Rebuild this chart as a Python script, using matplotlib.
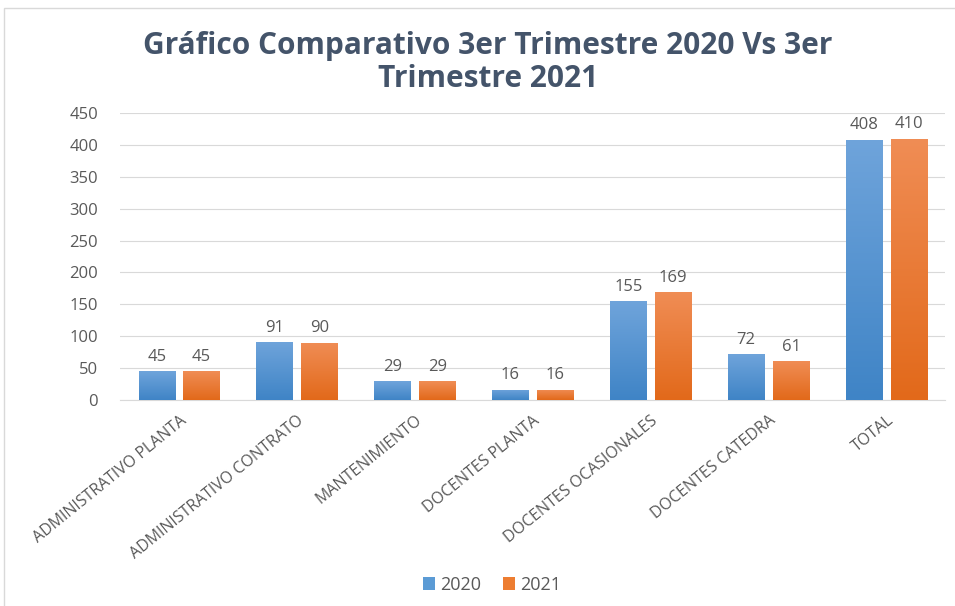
import matplotlib.pyplot as plt
import numpy as np
from matplotlib.patches import Rectangle
from matplotlib.colors import LinearSegmentedColormap

categorias = ["ADMINISTRATIVO PLANTA", "ADMINISTRATIVO CONTRATO", "MANTENIMIENTO",
              "DOCENTES PLANTA", "DOCENTES OCASIONALES", "DOCENTES CATEDRA", "TOTAL"]
v2020 = [45, 91, 29, 16, 155, 72, 408]
v2021 = [45, 90, 29, 16, 169, 61, 410]
series = ["2020", "2021"]

plt.rcParams['font.family'] = ['Open Sans', 'DejaVu Sans']
gris = '#595959'

fig = plt.figure(figsize=(9.55, 6.06), dpi=100)
ax = fig.add_axes([0.126, 0.340, 0.864, 0.4735])

x = np.arange(len(categorias))
ancho = 0.31
desp = 0.19

azul = LinearSegmentedColormap.from_list('azul', ['#3F84C6', '#6FA4DB'])
naranja = LinearSegmentedColormap.from_list('naranja', ['#E2691A', '#F08D55'])

grad = np.linspace(0, 1, 256).reshape(-1, 1)

def barras(pos, valores, cmap, color):
    bs = ax.bar(pos, valores, ancho, color=color, edgecolor='none', zorder=2)
    for b in bs:
        x0, y0 = b.get_x(), b.get_y()
        w, h = b.get_width(), b.get_height()
        im = ax.imshow(grad, cmap=cmap, origin='lower', aspect='auto',
                       extent=[x0, x0 + w, y0, y0 + h], zorder=3)
        im.set_clip_path(b)
    for xi, v in zip(pos, valores):
        ax.text(xi, v + 10, str(v), ha='center', va='bottom', fontsize=12, color=gris)
    return bs

b1 = barras(x - desp, v2020, azul, '#5B9BD5')
b2 = barras(x + desp, v2021, naranja, '#ED7D31')

ax.set_xlim(-0.5, len(categorias) - 0.5)
ax.set_ylim(0, 450)
ax.set_yticks(range(0, 451, 50))
ax.set_xticks(x)
ax.set_xticklabels(categorias, rotation=39, ha='right', va='top', rotation_mode='anchor',
                   fontsize=11.5, color=gris)
ax.tick_params(axis='y', labelsize=12, colors=gris, length=0, pad=16)
ax.tick_params(axis='x', length=0, pad=9)
ax.grid(axis='y', color='#D9D9D9', linewidth=0.8, zorder=0)
ax.set_axisbelow(True)
for s in ['top', 'right', 'left']:
    ax.spines[s].set_visible(False)
ax.spines['bottom'].set_color('#D9D9D9')

fig.suptitle("Gráfico Comparativo 3er Trimestre 2020 Vs 3er\nTrimestre 2021",
             x=0.511, y=0.897, va='center', fontsize=21.5, fontweight='bold',
             color='#44546A', linespacing=1.1)

fig.legend([b1, b2], series, loc='center', bbox_to_anchor=(0.515, 0.035), ncol=2,
           frameon=False, fontsize=13, handlelength=0.7, handleheight=0.7,
           handletextpad=0.25, columnspacing=1.2, labelcolor=gris)

fig.patches.append(Rectangle((0.004, -0.01), 1.2, 0.997, transform=fig.transFigure,
                             fill=False, edgecolor='#D9D9D9', linewidth=1))

fig.savefig("out.png", dpi=100)
